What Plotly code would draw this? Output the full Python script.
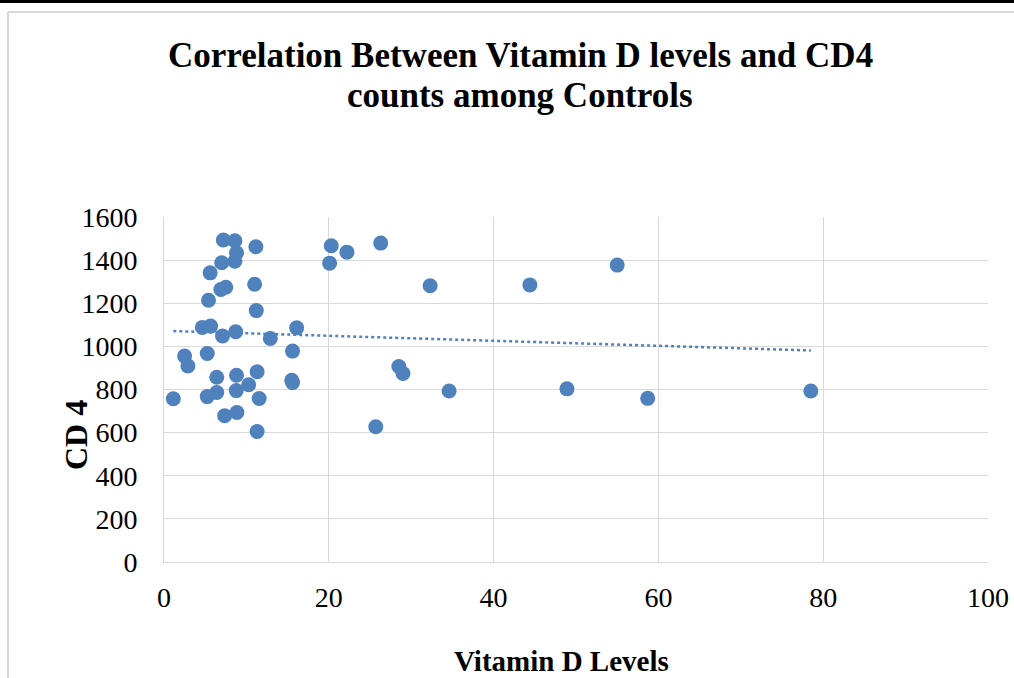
import numpy as np
import plotly.graph_objects as go

vitamin_d = [7.2, 8.6, 8.8, 8.6, 7.0, 11.15, 5.6, 7.5, 6.9, 11.0, 5.4, 11.2, 4.65, 5.66,
             7.1, 8.7, 12.9, 16.1, 15.6, 2.5, 2.9, 5.25, 6.4, 8.8, 11.3, 15.5, 15.6, 10.27,
             1.13, 5.25, 6.4, 8.77, 11.55, 7.36, 8.85, 11.3,
             20.3, 22.2, 20.1, 26.3, 32.3, 44.4, 55.0, 28.5, 29.0, 34.6, 48.9, 58.7, 78.5, 25.7]
cd4 = [1493, 1490, 1434, 1395, 1388, 1462, 1341, 1274, 1264, 1288, 1214, 1166, 1088, 1094,
       1048, 1068, 1037, 1086, 978, 955, 909, 967, 857, 866, 882, 843, 832, 822,
       757, 767, 786, 795, 758, 678, 693, 605,
       1467, 1437, 1386, 1479, 1281, 1285, 1377, 907, 874, 793, 803, 759, 793, 627]

x_ticks = [0, 20, 40, 60, 80, 100]
y_ticks = [0, 200, 400, 600, 800, 1000, 1200, 1400, 1600]

color = "#4F81BD"
slope, intercept = np.polyfit(vitamin_d, cd4, 1)
tx = np.array([min(vitamin_d), max(vitamin_d)])
ty = slope * tx + intercept

fig = go.Figure()
fig.add_trace(go.Scatter(x=tx, y=ty, mode="lines",
                         line=dict(color=color, width=2.5, dash="dot"),
                         showlegend=False, hoverinfo="skip"))
fig.add_trace(go.Scatter(x=vitamin_d, y=cd4, mode="markers",
                         marker=dict(color=color, size=15, line=dict(width=0)),
                         showlegend=False))

serif = "Liberation Serif, Times New Roman, serif"
W, H = 1014, 678
L, R, T, B = 164, W - 988, 217, H - 562
pw, ph = W - L - R, H - T - B

def px(xp):
    return (xp - L) / pw

def py(yp):
    return (H - B - yp) / ph

fig.update_layout(
    width=W, height=H,
    margin=dict(l=L, r=R, t=T, b=B, autoexpand=False),
    paper_bgcolor="white", plot_bgcolor="white",
    xaxis=dict(range=[0, 100], tickvals=x_ticks, showgrid=True, gridcolor="#D9D9D9", gridwidth=1,
               zeroline=False, showline=True, linecolor="#D9D9D9", linewidth=1, automargin=False,
               ticks="", tickfont=dict(family=serif, size=28, color="black"), ticklabelstandoff=10),
    yaxis=dict(range=[0, 1600], tickvals=y_ticks, showgrid=True, gridcolor="#D9D9D9", gridwidth=1,
               zeroline=False, showline=True, linecolor="#D9D9D9", linewidth=1, automargin=False,
               ticks="", tickfont=dict(family=serif, size=28, color="black"), ticklabelstandoff=20),
    annotations=[
        dict(text="<b>Correlation Between Vitamin D levels and CD4</b>",
             xref="paper", yref="paper", x=px(520), y=py(55), xanchor="center", yanchor="middle",
             showarrow=False, font=dict(family=serif, size=35, color="black")),
        dict(text="<b>counts among Controls</b>",
             xref="paper", yref="paper", x=px(520), y=py(96), xanchor="center", yanchor="middle",
             showarrow=False, font=dict(family=serif, size=35, color="black")),
        dict(text="<b>Vitamin D Levels</b>", xref="paper", yref="paper", x=px(561), y=py(661),
             xanchor="center", yanchor="middle", showarrow=False,
             font=dict(family=serif, size=29, color="black")),
        dict(text="<b>CD 4</b>", xref="paper", yref="paper", x=px(76), y=py(435), textangle=-90,
             xanchor="center", yanchor="middle", showarrow=False,
             font=dict(family=serif, size=32, color="black")),
    ],
    shapes=[
        dict(type="rect", xref="paper", yref="paper", x0=px(-5), x1=px(1020), y0=py(3), y1=py(-5),
             fillcolor="black", line=dict(width=0), layer="above"),
        dict(type="line", xref="paper", yref="paper", x0=px(8), x1=px(1020), y0=py(12), y1=py(12),
             line=dict(color="#D9D9D9", width=2)),
        dict(type="line", xref="paper", yref="paper", x0=px(8), x1=px(8), y0=py(12), y1=py(700),
             line=dict(color="#D9D9D9", width=2)),
    ],
)

fig.write_html("out.html", config={"displayModeBar": False},
               post_script="document.body.style.margin='0';document.body.style.overflow='hidden';")
